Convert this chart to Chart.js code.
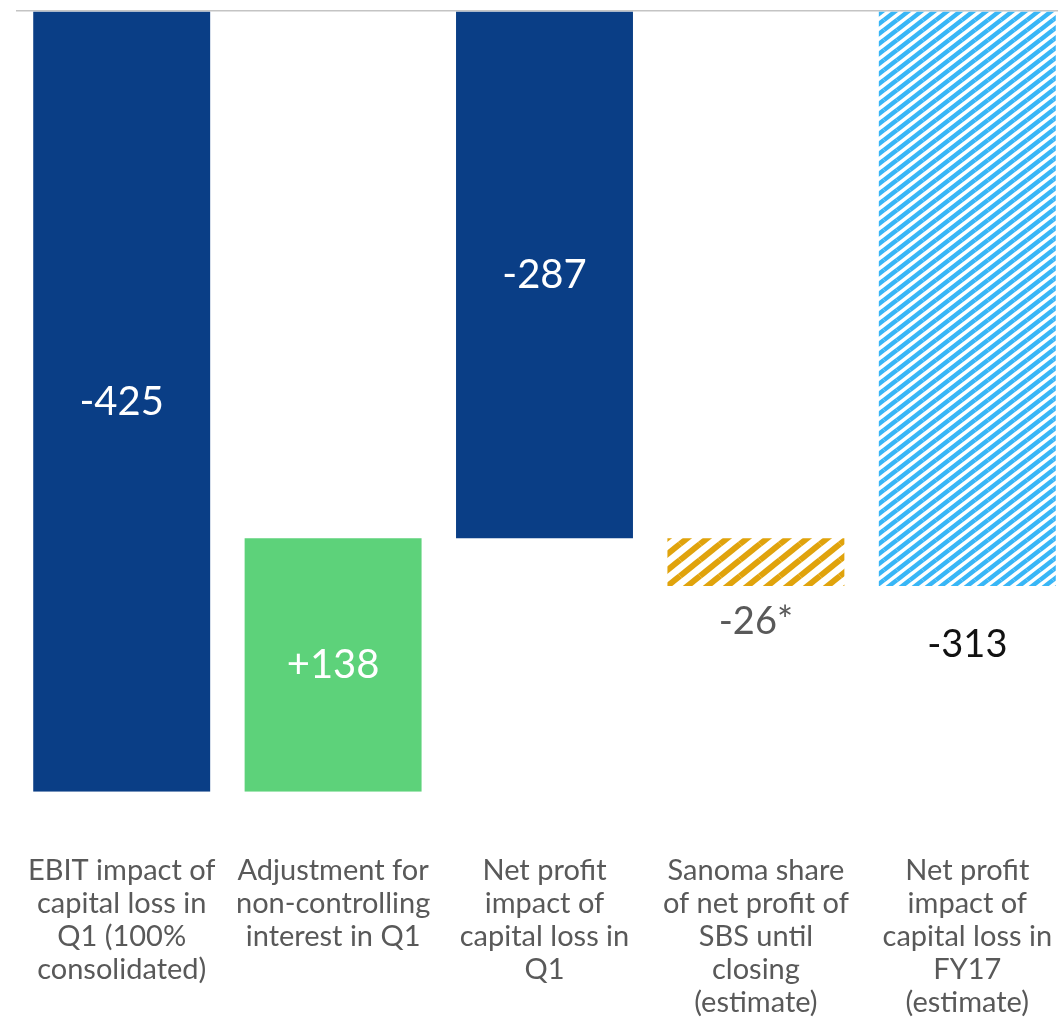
<!DOCTYPE html>
<html>
<head>
<meta charset="utf-8">
<script src="https://cdn.jsdelivr.net/npm/chart.js@4.4.0/dist/chart.umd.min.js"></script>
<style>
  html, body { margin: 0; padding: 0; background: #fff; overflow: hidden; }
  canvas { display: block; }
</style>
</head>
<body>
<canvas id="chart" width="1075" height="1019"></canvas>
<script>
// ==========================
// Data (EUR million)
// ==========================
const categories = [
    ["EBIT impact of", "capital loss in", "Q1 (100%", "consolidated)"],
    ["Adjustment for", "non-controlling", "interest in Q1"],
    ["Net profit", "impact of", "capital loss in", "Q1"],
    ["Sanoma share", "of net profit of", "SBS until", "closing", "(estimate)"],
    ["Net profit", "impact of", "capital loss in", "FY17", "(estimate)"]
];
const barStart = [0, -425, 0, -287, 0];
const barEnd = [-425, -287, -287, -313, -313];
const valueLabels = ["-425", "+138", "-287", "-26*", "-313"];

// ==========================
// Hatch patterns
// ==========================
function makeStripes(color, w, h, lineWidth) {
    const tile = document.createElement("canvas");
    tile.width = w;
    tile.height = h;
    const t = tile.getContext("2d");
    t.strokeStyle = color;
    t.lineWidth = lineWidth;
    for (let dx = -1; dx <= 1; dx++) {
        for (let dy = -1; dy <= 1; dy++) {
            t.beginPath();
            t.moveTo(dx * w, (dy + 1) * h);
            t.lineTo((dx + 1) * w, dy * h);
            t.stroke();
        }
    }
    return t.createPattern(tile, "repeat");
}

const darkBlue = "#0a3e86";
const green = "#5dd27a";
const goldStripes = makeStripes("#e0a30c", 20, 16, 6);
const blueStripes = makeStripes("#38b6f6", 13, 10, 4.5);

// ==========================
// Value labels plugin
// ==========================
const valueLabelPlugin = {
    id: "valueLabels",
    afterDatasetsDraw(chart) {
        const ctx = chart.ctx;
        const meta = chart.getDatasetMeta(0);
        ctx.save();
        ctx.textAlign = "center";
        ctx.textBaseline = "middle";
        meta.data.forEach((bar, i) => {
            const p = bar.getProps(["x", "y", "base"], true);
            const top = Math.min(p.y, p.base);
            const bottom = Math.max(p.y, p.base);
            let y, color, size;
            if (i < 3) {
                y = (top + bottom) / 2;
                color = "#ffffff";
                size = 40;
            } else if (i === 3) {
                y = bottom + 36;
                color = "#595959";
                size = 38;
            } else {
                y = bottom + 59;
                color = "#111111";
                size = 38;
            }
            ctx.fillStyle = color;
            ctx.font = size + "px Lato";
            ctx.fillText(valueLabels[i], p.x, y);
        });
        ctx.restore();
    }
};

// ==========================
// Chart
// ==========================
const ctx = document.getElementById("chart").getContext("2d");
const chart = new Chart(ctx, {
    type: "bar",
    data: {
        labels: categories,
        datasets: [{
            data: barStart.map((s, i) => [s, barEnd[i]]),
            backgroundColor: [darkBlue, green, darkBlue, goldStripes, blueStripes],
            borderWidth: 0,
            borderSkipped: false,
            barPercentage: 0.837,
            categoryPercentage: 1
        }]
    },
    options: {
        responsive: false,
        animation: false,
        layout: { padding: { top: 11, left: 16, right: 2, bottom: 0 } },
        plugins: {
            legend: { display: false },
            tooltip: { enabled: false }
        },
        scales: {
            x: {
                grid: { display: false, drawTicks: true, tickLength: 62 },
                border: { display: false },
                ticks: {
                    color: "#595959",
                    font: { family: "Lato", size: 29, lineHeight: 1.14 },
                    padding: 0,
                    maxRotation: 0,
                    autoSkip: false
                },
                afterFit: scale => {
                    scale.paddingLeft = 0;
                    scale.paddingRight = 0;
                }
            },
            y: {
                min: -425,
                max: 0,
                border: { display: false },
                ticks: { display: false, stepSize: 425 },
                grid: {
                    drawTicks: false,
                    color: c => (c.tick.value === 0 ? "#c4c4c4" : "rgba(0,0,0,0)"),
                    lineWidth: 1.5
                },
                afterFit: scale => { scale.width = 0; }
            }
        }
    },
    plugins: [valueLabelPlugin]
});
</script>
</body>
</html>
